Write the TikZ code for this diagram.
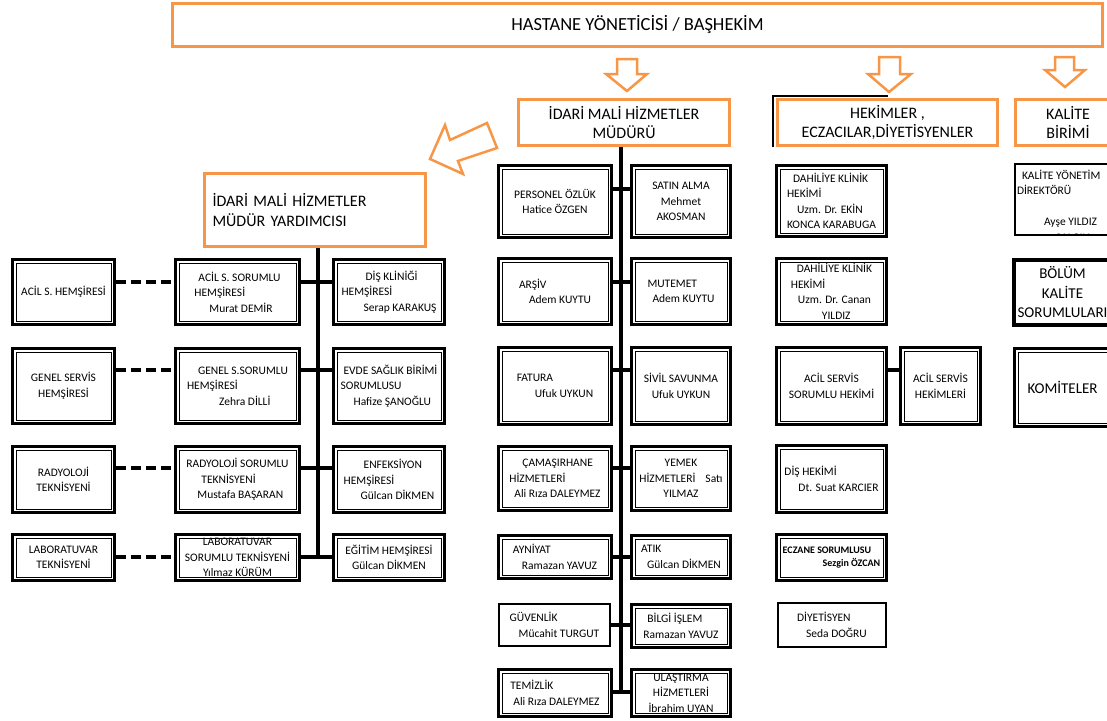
\documentclass[tikz,border=0pt]{standalone}
\usepackage{fontspec}
\setmainfont{Carlito}
\definecolor{orgline}{HTML}{F79646}

\tikzset{
	obox/.style={draw=orgline, line width=3pt, align=center, font=\fontsize{16pt}{19.5pt}\selectfont},
	dbox/.style={draw, line width=3pt, align=left, inner sep=2pt, font=\fontsize{11.5pt}{15.5pt}\selectfont,
		path picture={\draw[line width=1pt] ([shift={(3.5pt,-3.5pt)}]path picture bounding box.north west) rectangle ([shift={(-3.5pt,3.5pt)}]path picture bounding box.south east);}},
	sbox/.style={draw, line width=2pt, align=left, inner sep=2pt, font=\fontsize{11.5pt}{15.5pt}\selectfont},
	link/.style={line width=4pt},
	dlink/.style={line width=4pt, dash pattern=on 10pt off 5pt},
	harrow/.style={draw=orgline, line width=2.5pt, line join=miter}
}

\begin{document}
\begin{tikzpicture}[x=1pt, y=-1pt]
		\useasboundingbox (0,0) rectangle (1107,720);

		\draw (637.5,25)	node[obox, minimum width=930pt, minimum height=43pt, font=\fontsize{18.5pt}{22pt}\selectfont] (yonetici) {HASTANE YÖNETİCİSİ / BAŞHEKİM};
		\draw (624,122.5)	node[obox, minimum width=211pt, minimum height=46pt] (mudur) {İDARİ MALİ HİZMETLER\\MÜDÜRÜ};
		\draw (887.5,122.5)	node[obox, minimum width=220pt, minimum height=46pt] (hekim) {HEKİMLER ,\\ECZACILAR,DİYETİSYENLER};
		\draw (1068,122.5)	node[obox, minimum width=105pt, minimum height=46pt] (kalite) {KALİTE\\BİRİMİ};
		\draw (314.5,210)	node[obox, align=left, minimum width=221pt, minimum height=73pt, text width=204pt, inner xsep=8.5pt] (mudyrd) {İDARİ MALİ HİZMETLER\\MÜDÜR YARDIMCISI};
		\draw[line width=1.2pt] (773,147) -- (773,96) -- (888,96);

		\draw[harrow] (617,59) -- (637,59) -- (637,74) -- (647,74) -- (627,91) -- (606,74) -- (617,74) -- cycle;
		\draw[harrow] (879,57) -- (900,57) -- (900,74) -- (911,74) -- (889,92) -- (868,74) -- (879,74) -- cycle;
		\draw[harrow] (1055,57) -- (1074,57) -- (1074,70) -- (1085,70) -- (1065,87) -- (1045,70) -- (1055,70) -- cycle;
		\draw[harrow] (487,123) -- (450,140) -- (445,125) -- (430,159) -- (463,174) -- (458,161) -- (497,148) -- cycle;

		\draw (63.5,292)	node[dbox, align=center, minimum width=102pt, minimum height=65pt] (acilhem) {ACİL S. HEMŞİRESİ};
		\draw (237.5,292)	node[dbox, minimum width=124pt, minimum height=65pt] (acilsor) {\hspace*{4pt}ACİL S. SORUMLU\\HEMŞİRESİ\\\hspace*{15pt}Murat DEMİR};
		\draw (389,292)		node[dbox, minimum width=111pt, minimum height=65pt] (diskl) {\hspace*{24pt}DİŞ KLİNİĞİ\\HEMŞİRESİ\\\hspace*{22pt}Serap KARAKUŞ};
		\draw (63.5,386)	node[dbox, align=center, minimum width=102pt, minimum height=75pt] (genelhem) {GENEL SERVİS\\HEMŞİRESİ};
		\draw (237.5,386)	node[dbox, minimum width=124pt, minimum height=75pt] (genelsor) {\hspace*{11pt}GENEL S.SORUMLU\\HEMŞİRESİ\\\hspace*{32pt}Zehra DİLLİ};
		\draw (389,386)		node[dbox, minimum width=111pt, minimum height=75pt] (evde) {\hspace*{3pt}EVDE SAĞLIK BİRİMİ\\SORUMLUSU\\\hspace*{13pt}Hafize ŞANOĞLU};
		\draw (63.5,479.5)	node[dbox, align=center, minimum width=102pt, minimum height=66pt] (radtek) {RADYOLOJİ\\TEKNİSYENİ};
		\draw (237.5,479.5)	node[dbox, minimum width=124pt, minimum height=66pt] (radsor) {RADYOLOJİ SORUMLU\\\hspace*{15pt}TEKNİSYENİ\\\hspace*{11pt}Mustafa BAŞARAN};
		\draw (389,479.5)	node[dbox, minimum width=111pt, minimum height=66pt] (enf) {\hspace*{20pt}ENFEKSİYON\\HEMŞİRESİ\\\hspace*{17pt}Gülcan DİKMEN};
		\draw (63.5,557.5)	node[dbox, align=center, minimum width=102pt, minimum height=46pt] (labtek) {LABORATUVAR\\TEKNİSYENİ};
		\draw (237.5,557.5)	node[dbox, align=center, minimum width=124pt, minimum height=46pt] (labsor) {LABORATUVAR\\SORUMLU TEKNİSYENİ\\Yılmaz KÜRÜM};
		\draw (389,557.5)	node[dbox, align=center, minimum width=111pt, minimum height=46pt] (egitim) {EĞİTİM HEMŞİRESİ\\Gülcan DİKMEN};

		\draw (555,201.5)	node[dbox, align=center, minimum width=113pt, minimum height=72pt] (personel) {PERSONEL ÖZLÜK\\Hatice ÖZGEN};
		\draw (681,201.5)	node[dbox, align=center, minimum width=99pt, minimum height=72pt] (satin) {SATIN ALMA\\Mehmet\\AKOSMAN};
		\draw (555,291.5)	node[dbox, minimum width=113pt, minimum height=66pt] (arsiv) {ARŞİV\\\hspace*{10pt}Adem KUYTU};
		\draw (681,291.5)	node[dbox, minimum width=99pt, minimum height=66pt] (mutemet) {MUTEMET\\\hspace*{5pt}Adem KUYTU};
		\draw (555,386)		node[dbox, minimum width=113pt, minimum height=77pt] (fatura) {FATURA\\\hspace*{18pt}Ufuk UYKUN};
		\draw (681,386)		node[dbox, align=center, minimum width=99pt, minimum height=77pt] (sivil) {SİVİL SAVUNMA\\Ufuk UYKUN};
		\draw (555,478.5)	node[dbox, minimum width=113pt, minimum height=64pt] (camasir) {\hspace*{13pt}ÇAMAŞIRHANE\\HİZMETLERİ\\\hspace*{5pt}Ali Rıza DALEYMEZ};
		\draw (681,478.5)	node[dbox, align=center, minimum width=99pt, minimum height=64pt] (yemek) {YEMEK\\HİZMETLERİ\hspace{10pt}Satı\\YILMAZ};
		\draw (555,557)		node[dbox, minimum width=113pt, minimum height=43pt] (ayniyat) {AYNİYAT\\\hspace*{9pt}Ramazan YAVUZ};
		\draw (681,557)		node[dbox, minimum width=99pt, minimum height=43pt] (atik) {ATIK\\\hspace*{6pt}Gülcan DİKMEN};
		\draw (554.5,625)	node[sbox, minimum width=111pt, minimum height=42pt] (guvenlik) {GÜVENLİK\\\hspace*{9pt}Mücahit TURGUT};
		\draw (681,626)		node[dbox, minimum width=99pt, minimum height=43pt] (bilgi) {\hspace*{4pt}BİLGİ İŞLEM\\Ramazan YAVUZ};
		\draw (555,693)		node[dbox, minimum width=113pt, minimum height=47pt] (temizlik) {TEMİZLİK\\\hspace*{3pt}Ali Rıza DALEYMEZ};
		\draw (681,693)		node[dbox, align=center, minimum width=99pt, minimum height=47pt] (ulastirma) {ULAŞTIRMA\\HİZMETLERİ\\İbrahim UYAN};

		\draw (831.5,201)	node[dbox, minimum width=110pt, minimum height=71pt] (dahiliye1) {\hspace*{6pt}DAHİLİYE KLİNİK\\HEKİMİ\\\hspace*{10pt}Uzm. Dr. EKİN\\KONCA KARABUGA};
		\draw (831.5,291.5)	node[dbox, minimum width=110pt, minimum height=66pt] (dahiliye2) {\hspace*{6pt}DAHİLİYE KLİNİK\\HEKİMİ\\\hspace*{7pt}Uzm. Dr. Canan\\\hspace*{31pt}YILDIZ};
		\draw (831.5,386)	node[dbox, align=center, minimum width=110pt, minimum height=77pt] (acilsrm) {ACİL SERVİS\\SORUMLU HEKİMİ};
		\draw (940.5,386)	node[dbox, align=center, minimum width=80pt, minimum height=77pt] (acilhek) {ACİL SERVİS\\HEKİMLERİ};
		\draw (831.5,479)	node[dbox, minimum width=110pt, minimum height=67pt] (dishek) {DİŞ HEKİMİ\\\hspace*{14pt}Dt. Suat KARCIER};
		\draw (831.5,557.5)	node[dbox, minimum width=110pt, minimum height=46pt, font=\fontsize{10pt}{12.5pt}\selectfont\bfseries] (eczane) {ECZANE SORUMLUSU\\\hspace*{40pt}Sezgin ÖZCAN};
		\draw (832,625)		node[sbox, minimum width=108pt, minimum height=44pt] (diyet) {DİYETİSYEN\\\hspace*{9pt}Seda DOĞRU};

		\draw (1068,199.5)	node[sbox, minimum width=106pt, minimum height=71pt,
			path picture={\node[draw=none, anchor=north west, align=left, inner sep=0pt, minimum width=0pt, minimum height=0pt, font=\fontsize{11.5pt}{15.5pt}\selectfont]
				at ([shift={(1pt,-5pt)}]path picture bounding box.north west) {\hspace*{5pt}KALİTE YÖNETİM\\DİREKTÖRÜ\\[15.5pt]\hspace*{27pt}Ayşe YILDIZ\\\hspace*{38pt}ÇALGIN};}] (kyonetim) {};
		\draw (1062.5,292.5)	node[draw, line width=4pt, align=center, minimum width=95pt, minimum height=65pt, font=\fontsize{15pt}{19.5pt}\selectfont] (bolum) {BÖLÜM\\KALİTE\\SORUMLULARI};
		\draw (1062.5,387.5)	node[dbox, align=center, minimum width=96pt, minimum height=78pt, font=\fontsize{15pt}{19.5pt}\selectfont] (komite) {KOMİTELER};

		\coordinate (lspine) at (318,559);
		\coordinate (mspine) at (621,694);
		\draw[link] (mudyrd.south -| lspine) -- (lspine);
		\draw[link] (mudur.south -| mspine) -- (mspine);

		\draw[link] (acilsor.east |- 0,282) -- (diskl.west |- 0,282);
		\draw[link] (genelsor.east |- 0,370) -- (evde.west |- 0,370);
		\draw[link] (radsor.east |- 0,468) -- (enf.west |- 0,468);
		\draw[link] (labsor.east |- 0,557) -- (egitim.west |- 0,557);
		\draw[dlink] (acilhem.east |- 0,282) -- (acilsor.west |- 0,282);
		\draw[dlink] (genelhem.east |- 0,370) -- (genelsor.west |- 0,370);
		\draw[dlink] (radtek.east |- 0,468) -- (radsor.west |- 0,468);
		\draw[dlink] (labtek.east |- 0,557) -- (labsor.west |- 0,557);

		\draw[link] (personel.east |- 0,189) -- (satin.west |- 0,189);
		\draw[link] (arsiv.east |- 0,282) -- (mutemet.west |- 0,282);
		\draw[link] (fatura.east |- 0,370) -- (sivil.west |- 0,370);
		\draw[link] (camasir.east |- 0,468) -- (yemek.west |- 0,468);
		\draw[link] (ayniyat.east |- 0,557) -- (atik.west |- 0,557);
		\draw[link] (guvenlik.east |- 0,625) -- (bilgi.west |- 0,625);
		\draw[link] (temizlik.east |- 0,692) -- (ulastirma.west |- 0,692);

		\draw[link] (acilsrm.east |- 0,370) -- (acilhek.west |- 0,370);
	\end{tikzpicture}
\end{document}
